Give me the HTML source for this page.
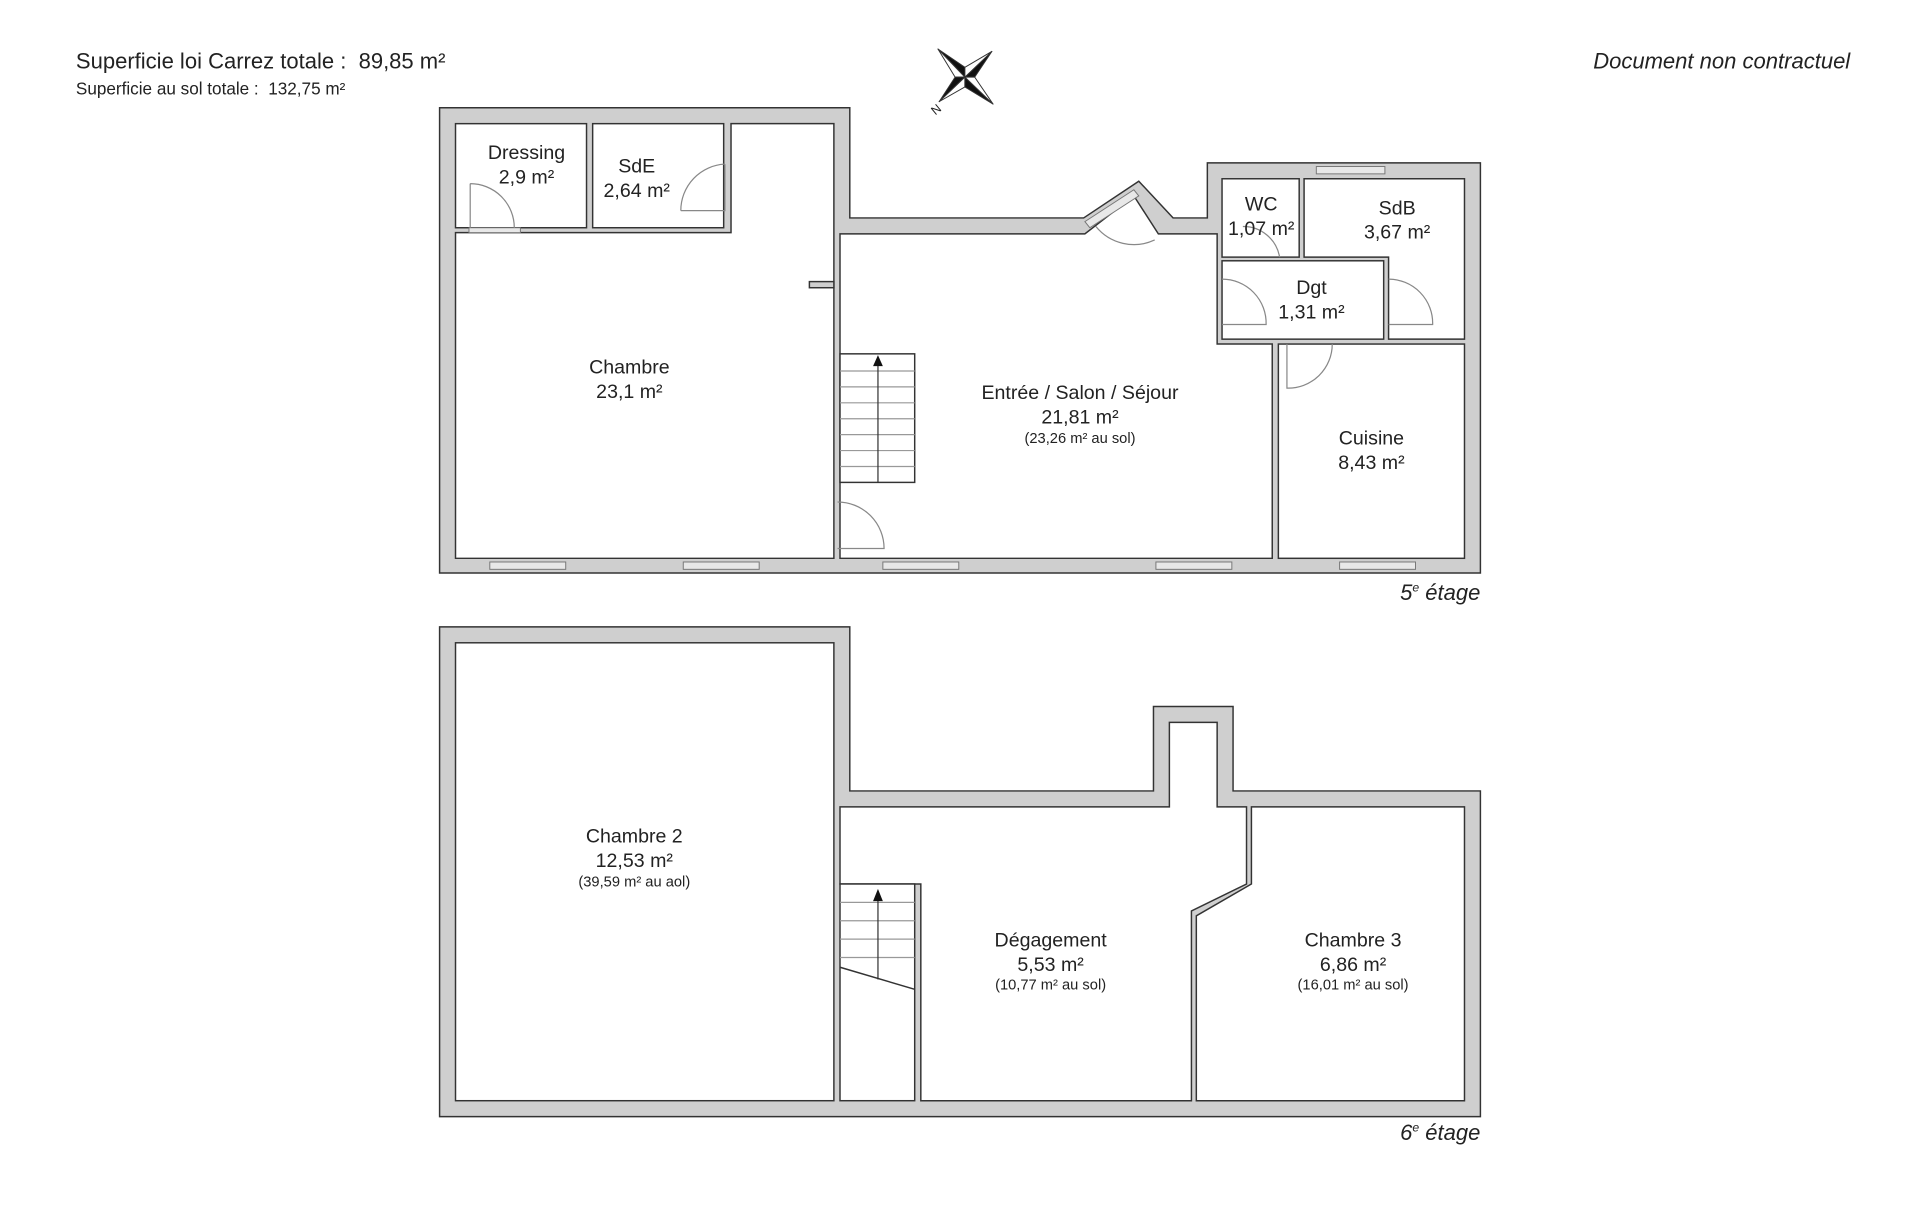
<!DOCTYPE html>
<html><head><meta charset="utf-8"><style>
html,body{margin:0;padding:0;background:#fff;width:1920px;height:1206px;overflow:hidden}
svg{display:block}
text{font-family:"Liberation Sans",sans-serif;fill:#222}
</style></head><body>
<svg width="1920" height="1206" viewBox="0 0 1568 985" preserveAspectRatio="none">
<rect width="1568" height="985" fill="#fff"/>
<text x="62" y="56" font-size="18" xml:space="preserve">Superficie loi Carrez totale :  89,85 m²</text>
<text x="62" y="77" font-size="14" xml:space="preserve">Superficie au sol totale :  132,75 m²</text>
<text x="1511" y="56" font-size="18" font-style="italic" text-anchor="end">Document non contractuel</text>
<!-- compass -->
<g stroke="#333" stroke-width="0.8" stroke-linejoin="round">
<polygon points="788,63 766,40 788,55" fill="#111"/><polygon points="788,63 766,40 780,63" fill="#fff"/>
<polygon points="788,63 810,42 796,63" fill="#111"/><polygon points="788,63 810,42 788,55" fill="#fff"/>
<polygon points="788,63 767,83 780,63" fill="#111"/><polygon points="788,63 767,83 788,71" fill="#fff"/>
<polygon points="788,63 811,85 788,71" fill="#111"/><polygon points="788,63 811,85 796,63" fill="#fff"/>
</g>
<text x="762" y="95" font-size="10" transform="rotate(-40 762 92)">N</text>

<g stroke="#333" stroke-width="1.2">
<polygon points="359,88 694,88 694,178 885,178 930,148 958,178 986,178 986,133 1209,133 1209,468 359,468" fill="#cfcfcf"/>
<rect x="372" y="101" width="107" height="85" fill="#fff"/>
<rect x="484" y="101" width="107" height="85" fill="#fff"/>
<polygon points="372,190 597,190 597,101 681,101 681,456 372,456" fill="#fff"/>
<polygon points="686,191 886,191 926,160 946,191 994,191 994,281 1039,281 1039,456 686,456" fill="#fff"/>
<rect x="998" y="146" width="63" height="64" fill="#fff"/>
<polygon points="1065,146 1196,146 1196,277 1134,277 1134,210 1065,210" fill="#fff"/>
<rect x="998" y="213" width="132" height="64" fill="#fff"/>
<rect x="1044" y="281" width="152" height="175" fill="#fff"/>
<rect x="661" y="230" width="20" height="5" fill="#cfcfcf"/>
<rect x="686" y="289" width="61" height="105" fill="#fff"/>
</g>
<g stroke="#999" stroke-width="1">
<line x1="686" y1="303" x2="747" y2="303"/><line x1="686" y1="316" x2="747" y2="316"/><line x1="686" y1="329" x2="747" y2="329"/><line x1="686" y1="342" x2="747" y2="342"/><line x1="686" y1="355" x2="747" y2="355"/><line x1="686" y1="368" x2="747" y2="368"/><line x1="686" y1="381" x2="747" y2="381"/>
</g>
<line x1="717" y1="394" x2="717" y2="298" stroke="#333" stroke-width="1"/>
<polygon points="713,299 721,299 717,290" fill="#111"/>
<g fill="#e8e8e8" stroke="#777" stroke-width="0.8">
<rect x="400" y="459" width="62" height="6"/><rect x="558" y="459" width="62" height="6"/><rect x="721" y="459" width="62" height="6"/><rect x="944" y="459" width="62" height="6"/><rect x="1094" y="459" width="62" height="6"/>
<rect x="1075" y="136" width="56" height="6"/><rect x="383" y="186" width="42" height="4"/>
<polygon points="886,181 926,155 930,160 890,186"/>
<rect x="1094" y="649" width="62" height="6"/>
</g>
<g fill="none" stroke="#888" stroke-width="1">
<path d="M384,150 L384,186 M384,150 A36,36 0 0 1 420,186"/>
<path d="M592,134 L592,172 L556,172 M556,172 A38,38 0 0 1 592,134"/>
<path d="M1015,185 A30,30 0 0 1 1045,210"/>
<path d="M998,228 A36,36 0 0 1 1034,265 L998,265"/>
<path d="M1134,228 A36,36 0 0 1 1170,265 L1134,265"/>
<path d="M1051,281 L1051,317 A36,36 0 0 0 1088,281"/>
<path d="M684,410 A38,38 0 0 1 722,448 L684,448"/>
<path d="M895,185 A40,40 0 0 0 943,196"/>
<path d="M684,666 L646,666 A38,38 0 0 0 684,704"/>
<path d="M1021,666 L1057,666 A36,36 0 0 1 1021,702"/>
</g>
<g stroke="#333" stroke-width="1.2">
<polygon points="359,512 694,512 694,646 942,646 942,577 1007,577 1007,646 1209,646 1209,912 359,912" fill="#cfcfcf"/>
<rect x="372" y="525" width="309" height="374" fill="#fff"/>
<polygon points="686,659 955,659 955,590 994,590 994,659 1018,659 1018,722 973,744 973,899 752,899 752,722 686,722" fill="#fff"/>
<rect x="686" y="722" width="61" height="177" fill="#fff"/>
<polygon points="1022,659 1196,659 1196,899 977,899 977,748 1022,722" fill="#fff"/>
</g>
<g stroke="#999" stroke-width="1">
<line x1="686" y1="737" x2="747" y2="737"/><line x1="686" y1="752" x2="747" y2="752"/><line x1="686" y1="767" x2="747" y2="767"/><line x1="686" y1="782" x2="747" y2="782"/>
</g>
<line x1="686" y1="790" x2="747" y2="808" stroke="#333" stroke-width="1.2"/>
<line x1="717" y1="800" x2="717" y2="731" stroke="#333" stroke-width="1"/>
<polygon points="713,736 721,736 717,726" fill="#111"/>
<g font-size="16" text-anchor="middle">
<text x="430" y="130">Dressing</text><text x="430" y="150">2,9 m²</text>
<text x="520" y="141">SdE</text><text x="520" y="161">2,64 m²</text>
<text x="514" y="305">Chambre</text><text x="514" y="325">23,1 m²</text>
<text x="882" y="326">Entrée / Salon / Séjour</text><text x="882" y="346">21,81 m²</text>
<text x="1030" y="172">WC</text><text x="1030" y="192">1,07 m²</text>
<text x="1141" y="175">SdB</text><text x="1141" y="195">3,67 m²</text>
<text x="1071" y="240">Dgt</text><text x="1071" y="260">1,31 m²</text>
<text x="1120" y="363">Cuisine</text><text x="1120" y="383">8,43 m²</text>
<text x="518" y="688">Chambre 2</text><text x="518" y="708">12,53 m²</text>
<text x="858" y="773">Dégagement</text><text x="858" y="793">5,53 m²</text>
<text x="1105" y="773">Chambre 3</text><text x="1105" y="793">6,86 m²</text>
</g>
<g font-size="12" text-anchor="middle">
<text x="882" y="362">(23,26 m² au sol)</text>
<text x="518" y="724">(39,59 m² au aol)</text>
<text x="858" y="808">(10,77 m² au sol)</text>
<text x="1105" y="808">(16,01 m² au sol)</text>
</g>
<text x="1209" y="490" font-size="18" font-style="italic" text-anchor="end">5<tspan font-size="10" dy="-7">e</tspan><tspan dy="7"> étage</tspan></text>
<text x="1209" y="931" font-size="18" font-style="italic" text-anchor="end">6<tspan font-size="10" dy="-7">e</tspan><tspan dy="7"> étage</tspan></text>
</svg>
</body></html>
